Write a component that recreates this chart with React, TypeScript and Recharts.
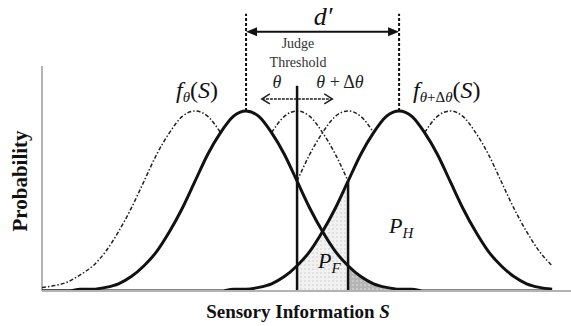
import { ComposedChart, Line, Area, XAxis, YAxis, ReferenceLine } from 'recharts';

// sensory information axis (arbitrary units) and curve readings (peak = 1)
const sensory = [
  0, 2.5, 5, 7.5, 10, 12.5, 15, 17.5, 20, 22.5, 25, 27.5, 30, 32.5, 35, 37.5, 40, 42.5, 45, 47.5,
  50, 52.5, 55, 57.5, 60, 62.5, 65, 67.5, 70, 72.5, 75, 77.5, 80, 82.5, 85, 87.5, 90, 92.5, 95, 97.5, 100,
];
const fTheta = [
  0, 0, 0, 0.01, 0.01, 0.02, 0.04, 0.08, 0.14, 0.22, 0.33, 0.46, 0.61, 0.76, 0.88, 0.97, 1.0, 0.97, 0.88, 0.76,
  0.61, 0.46, 0.33, 0.22, 0.14, 0.08, 0.04, 0.02, 0.01, 0.01, 0, 0, 0, 0, 0, 0, 0, 0, 0, 0, 0,
];
const fThetaDelta = [
  0, 0, 0, 0, 0, 0, 0, 0, 0, 0, 0, 0, 0, 0, 0, 0.01, 0.01, 0.02, 0.04, 0.08,
  0.14, 0.22, 0.33, 0.46, 0.61, 0.76, 0.88, 0.97, 1.0, 0.97, 0.88, 0.76, 0.61, 0.46, 0.33, 0.22, 0.14, 0.08, 0.04, 0.02, 0.01,
];
const n = null;
const outerLeft = [
  0.02, 0.03, 0.05, 0.09, 0.14, 0.22, 0.33, 0.46, 0.61, 0.76, 0.88, 0.97, 1.0, 0.97, 0.88, n, n, n, n, n,
  n, n, n, n, n, n, n, n, n, n, n, n, n, n, n, n, n, n, n, n, n,
];
const innerLeft = [
  n, n, n, n, n, n, n, n, n, n, n, n, n, n, n, n, n, n, 0.88, 0.97,
  1.0, 0.97, 0.88, 0.76, 0.61, n, n, n, n, n, n, n, n, n, n, n, n, n, n, n, n,
];
const innerRight = [
  n, n, n, n, n, n, n, n, n, n, n, n, n, n, n, n, n, n, n, n,
  0.61, 0.76, 0.88, 0.97, 1.0, 0.97, 0.88, n, n, n, n, n, n, n, n, n, n, n, n, n, n,
];
const outerRight = [
  n, n, n, n, n, n, n, n, n, n, n, n, n, n, n, n, n, n, n, n,
  n, n, n, n, n, n, n, n, n, n, 0.88, 0.97, 1.0, 0.97, 0.88, 0.76, 0.61, 0.46, 0.33, 0.22, 0.14,
];
const shadeF = [
  n, n, n, n, n, n, n, n, n, n, n, n, n, n, n, n, n, n, n, n,
  0.14, 0.22, 0.33, 0.46, 0.61, n, n, n, n, n, n, n, n, n, n, n, n, n, n, n, n,
];
const shadeTail = [
  n, n, n, n, n, n, n, n, n, n, n, n, n, n, n, n, n, n, n, n,
  n, n, n, n, 0.14, 0.08, 0.04, 0.02, 0.01, 0.01, 0, n, n, n, n, n, n, n, n, n, n,
];

const data = sensory.map((s, i) => ({
  s,
  fTheta: fTheta[i],
  fThetaDelta: fThetaDelta[i],
  outerLeft: outerLeft[i],
  innerLeft: innerLeft[i],
  innerRight: innerRight[i],
  outerRight: outerRight[i],
  shadeF: shadeF[i],
  shadeTail: shadeTail[i],
}));

const SERIF = 'Liberation Serif';
const DASHDOT = '4 2 1.5 2';

const FilledArrow = (props: any) => {
  const { x1, y1, x2, y2 } = props;
  return (
    <g>
      <line x1={x1 + 6} y1={y1} x2={x2 - 6} y2={y2} stroke="#111" strokeWidth={2} />
      <polygon points={`${x1},${y1} ${x1 + 11},${y1 - 4.5} ${x1 + 11},${y1 + 4.5}`} fill="#111" />
      <polygon points={`${x2},${y2} ${x2 - 11},${y2 - 4.5} ${x2 - 11},${y2 + 4.5}`} fill="#111" />
    </g>
  );
};

const OpenArrow = (props: any) => {
  const { x1, y1, x2, y2 } = props;
  return (
    <g fill="none" stroke="#222" strokeWidth={1.6}>
      <line x1={x1} y1={y1} x2={x2} y2={y2} strokeDasharray="3 1" />
      <polyline points={`${x1 + 8},${y1 - 5} ${x1},${y1} ${x1 + 8},${y1 + 5}`} />
      <polyline points={`${x2 - 8},${y2 - 5} ${x2},${y2} ${x2 - 8},${y2 + 5}`} />
    </g>
  );
};

const App = () => {
  return (
    <div style={{ position: 'absolute', left: 0, top: 0, width: 571, height: 326, background: '#fff' }}>
      <ComposedChart width={571} height={326} data={data} margin={{ top: 12, right: 0, left: 42, bottom: 0 }}>
        <XAxis
          type="number"
          dataKey="s"
          domain={[0, 103.7]}
          allowDataOverflow
          tick={false}
          tickLine={false}
          height={35}
          axisLine={{ stroke: '#b3b3b3', strokeWidth: 2 }}
        />
        <YAxis hide domain={[0, 1.55]} allowDataOverflow />
        <ReferenceLine segment={[{ x: 0, y: 0 }, { x: 0, y: 1.25 }]} stroke="#b3b3b3" strokeWidth={2} />
        <Area dataKey="shadeF" type="monotone" stroke="none" fill="url(#dotsLight)" fillOpacity={1} isAnimationActive={false} connectNulls={false} />
        <Area dataKey="shadeTail" type="monotone" stroke="none" fill="url(#dotsDark)" fillOpacity={1} isAnimationActive={false} connectNulls={false} />
        <Line dataKey="outerLeft" type="monotone" stroke="#222" strokeWidth={1.5} strokeDasharray={DASHDOT} dot={false} isAnimationActive={false} />
        <Line dataKey="innerLeft" type="monotone" stroke="#222" strokeWidth={1.5} strokeDasharray={DASHDOT} dot={false} isAnimationActive={false} />
        <Line dataKey="innerRight" type="monotone" stroke="#222" strokeWidth={1.5} strokeDasharray={DASHDOT} dot={false} isAnimationActive={false} />
        <Line dataKey="outerRight" type="monotone" stroke="#222" strokeWidth={1.5} strokeDasharray={DASHDOT} dot={false} isAnimationActive={false} />
        <Line dataKey="fTheta" type="monotone" stroke="#111" strokeWidth={3} dot={false} isAnimationActive={false} />
        <Line dataKey="fThetaDelta" type="monotone" stroke="#111" strokeWidth={3} dot={false} isAnimationActive={false} />
        <ReferenceLine segment={[{ x: 50, y: 0 }, { x: 50, y: 1.14 }]} stroke="#111" strokeWidth={2.5} />
        <ReferenceLine segment={[{ x: 60, y: 0 }, { x: 60, y: 0.61 }]} stroke="#111" strokeWidth={2.5} />
        <ReferenceLine segment={[{ x: 40, y: 1.0 }, { x: 40, y: 1.54 }]} stroke="#111" strokeWidth={2} strokeDasharray="3 2" />
        <ReferenceLine segment={[{ x: 70, y: 1.0 }, { x: 70, y: 1.54 }]} stroke="#111" strokeWidth={2} strokeDasharray="3 2" />
        <ReferenceLine segment={[{ x: 40, y: 1.44 }, { x: 70, y: 1.44 }]} shape={FilledArrow} />
        <ReferenceLine segment={[{ x: 43.1, y: 1.067 }, { x: 56.9, y: 1.067 }]} shape={OpenArrow} />
      </ComposedChart>
      <svg width={571} height={326} style={{ position: 'absolute', left: 0, top: 0, pointerEvents: 'none' }}>
        <defs>
          <pattern id="dotsLight" width="4" height="4" patternUnits="userSpaceOnUse">
            <rect width="4" height="4" fill="#f1f1f1" />
            <circle cx="1" cy="1" r="0.7" fill="#c4c4c4" />
          </pattern>
          <pattern id="dotsDark" width="4" height="4" patternUnits="userSpaceOnUse">
            <rect width="4" height="4" fill="#b5b5b5" />
            <circle cx="1" cy="1" r="0.7" fill="#ececec" />
          </pattern>
        </defs>
        <g fontFamily={SERIF} style={{ fontFamily: SERIF }}>
          <text x={323} y={25} textAnchor="middle" fontSize={26} fontStyle="italic" fill="#111" fontFamily={SERIF}>d′</text>
          <text x={298} y={48} textAnchor="middle" fontSize={14} fill="#333" fontFamily={SERIF}>Judge</text>
          <text x={298} y={67} textAnchor="middle" fontSize={14} fill="#333" fontFamily={SERIF}>Threshold</text>
          <text x={277} y={88} textAnchor="middle" fontSize={18} fontStyle="italic" fill="#222" fontFamily={SERIF}>θ</text>
          <text x={340} y={88} textAnchor="middle" fontSize={18} fill="#222" fontFamily={SERIF}>
            <tspan fontStyle="italic">θ</tspan> + Δ<tspan fontStyle="italic">θ</tspan>
          </text>
          <text x={176} y={98} fontSize={24} fill="#111" fontFamily={SERIF}>
            <tspan fontStyle="italic">f</tspan>
            <tspan fontSize={15} dy={4} fontStyle="italic">θ</tspan>
            <tspan dy={-4}>(</tspan>
            <tspan fontStyle="italic">S</tspan>
            <tspan>)</tspan>
          </text>
          <text x={413} y={98} fontSize={24} fill="#111" fontFamily={SERIF}>
            <tspan fontStyle="italic">f</tspan>
            <tspan fontSize={15} dy={4}><tspan fontStyle="italic">θ</tspan>+Δ<tspan fontStyle="italic">θ</tspan></tspan>
            <tspan dy={-4}>(</tspan>
            <tspan fontStyle="italic">S</tspan>
            <tspan>)</tspan>
          </text>
          <text x={389} y={233} fontSize={22} fontStyle="italic" fill="#111" fontFamily={SERIF}>
            P<tspan fontSize={15} dy={5}>H</tspan>
          </text>
          <text x={318} y={268} fontSize={22} fontStyle="italic" fill="#111" fontFamily={SERIF}>
            P<tspan fontSize={15} dy={5}>F</tspan>
          </text>
          <text
            x={0}
            y={0}
            transform="translate(27,181) rotate(-90)"
            textAnchor="middle"
            fontSize={21}
            fontWeight="bold"
            fill="#111"
            fontFamily={SERIF}
          >
            Probability
          </text>
          <text x={298} y={318} textAnchor="middle" fontSize={19} fontWeight="bold" fill="#111" fontFamily={SERIF}>
            Sensory Information <tspan fontStyle="italic">S</tspan>
          </text>
        </g>
      </svg>
    </div>
  );
};

export default App;
